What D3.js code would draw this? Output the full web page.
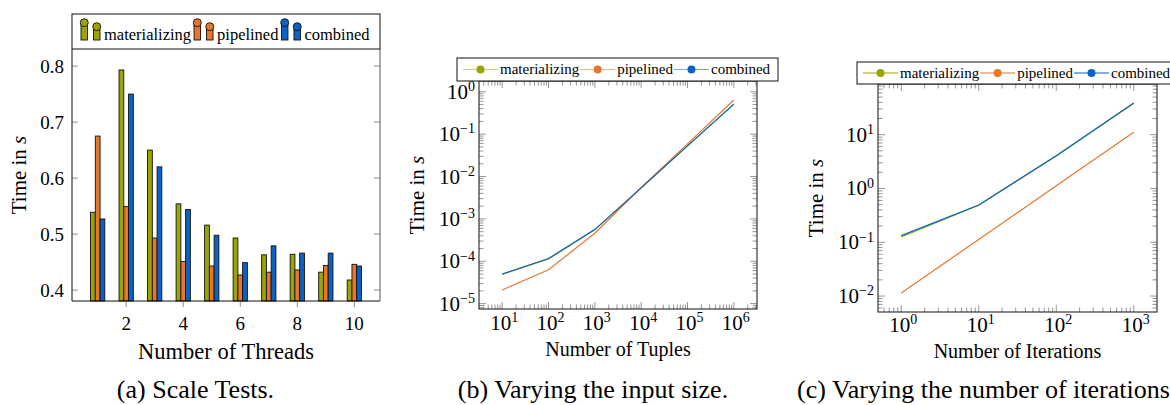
<!DOCTYPE html>
<html>
<head>
<meta charset="utf-8">
<script src="https://cdn.jsdelivr.net/npm/d3@7"></script>
<style>
  body { margin: 0; background: #fff; }
  svg { display: block; }
  svg text { font-family: "Liberation Serif", "DejaVu Serif", serif; }
</style>
</head>
<body>
<svg id="fig" width="1170" height="405"></svg>
<script>
// (a) scale tests: time per thread count
const threads = [1, 2, 3, 4, 5, 6, 7, 8, 9, 10];
const threadMat = [0.539, 0.793, 0.650, 0.554, 0.516, 0.493, 0.463, 0.464, 0.432, 0.418];
const threadPip = [0.675, 0.549, 0.493, 0.451, 0.443, 0.427, 0.432, 0.436, 0.444, 0.446];
const threadComb = [0.527, 0.750, 0.620, 0.544, 0.498, 0.449, 0.479, 0.466, 0.466, 0.443];
const threadTicks = [2, 4, 6, 8, 10];
const timeTicks = [0.4, 0.5, 0.6, 0.7, 0.8];

// (b) varying input size
const tuples = [1e1, 1e2, 1e3, 1e4, 1e5, 1e6];
const tuplesMat = [4.9e-5, 1.13e-4, 5.6e-4, 5.4e-3, 5.3e-2, 0.51];
const tuplesPip = [2.1e-5, 6.3e-5, 4.6e-4, 5.5e-3, 5.9e-2, 0.64];
const tuplesComb = [5.0e-5, 1.16e-4, 5.6e-4, 5.4e-3, 5.3e-2, 0.51];

// (c) varying the number of iterations
const iterations = [1, 10, 100, 1000];
const iterMat = [0.125, 0.488, 4.0, 38.5];
const iterPip = [0.0114, 0.113, 1.12, 11.1];
const iterComb = [0.133, 0.494, 4.05, 38.8];

const seriesNames = ["materializing", "pipelined", "combined"];
const colors = ["#9aa500", "#e8762b", "#0a63c4"];

const svg = d3.select("#fig");
const tickGray = "#8a8a8a";

// pgfplots style: enlarge limits by 10% of the data range
function enlarge(lo, hi, f = 0.1) {
  const p = (hi - lo) * f;
  return [lo - p, hi + p];
}
function enlargeLog(lo, hi, f = 0.1) {
  const a = Math.log10(lo), b = Math.log10(hi), p = (b - a) * f;
  return [Math.pow(10, a - p), Math.pow(10, b + p)];
}

function yLabel(x, yMid) {
  const t = svg.append("text")
    .attr("transform", `translate(${x},${yMid}) rotate(-90)`)
    .attr("text-anchor", "middle")
    .attr("font-size", 21);
  t.append("tspan").text("Time in ");
  t.append("tspan").attr("font-style", "italic").text("s");
}

function caption(x, y, text, anchor = "middle") {
  svg.append("text").attr("x", x).attr("y", y)
    .attr("text-anchor", anchor).attr("font-size", 26).text(text);
}

// ---------------- (a) bar chart ----------------
function drawBars() {
  const L = 72, R = 380, T = 49, B = 301;
  const all = threadMat.concat(threadPip, threadComb);
  const x = d3.scaleLinear().domain(enlarge(d3.min(threads), d3.max(threads))).range([L, R]);
  const y = d3.scaleLinear().domain(enlarge(d3.min(all), d3.max(all))).range([B, T]);
  const g = svg.append("g");

  const bw = (x(1) - x(0)) / 6;
  const sets = [threadMat, threadPip, threadComb];
  sets.forEach((vals, si) => {
    g.selectAll(null).data(threads).enter().append("rect")
      .attr("x", (d) => x(d) + (si - 1) * bw - bw / 2)
      .attr("y", (d, i) => y(vals[i]))
      .attr("width", bw)
      .attr("height", (d, i) => B - y(vals[i]))
      .attr("fill", colors[si])
      .attr("stroke", "#111")
      .attr("stroke-width", 0.9);
  });

  // y ticks inside on both sides
  timeTicks.forEach((v) => {
    g.append("line").attr("x1", L).attr("x2", L + 6).attr("y1", y(v)).attr("y2", y(v))
      .attr("stroke", tickGray);
    g.append("line").attr("x1", R).attr("x2", R - 6).attr("y1", y(v)).attr("y2", y(v))
      .attr("stroke", tickGray);
    g.append("text").attr("x", L - 8).attr("y", y(v)).attr("dy", "0.35em")
      .attr("text-anchor", "end").attr("font-size", 19).text(d3.format(".1f")(v));
  });
  // x ticks outside below
  threadTicks.forEach((v) => {
    g.append("line").attr("x1", x(v)).attr("x2", x(v)).attr("y1", B).attr("y2", B + 6)
      .attr("stroke", tickGray);
    g.append("text").attr("x", x(v)).attr("y", 330)
      .attr("text-anchor", "middle").attr("font-size", 19).text(v);
  });

  // frame
  g.append("path").attr("d", `M${L},${T}V${B}H${R}`).attr("fill", "none").attr("stroke", "#111");
  g.append("line").attr("x1", R).attr("x2", R).attr("y1", T).attr("y2", B).attr("stroke", "#555");

  // legend
  const lg = svg.append("g");
  lg.append("rect").attr("x", L).attr("y", 14).attr("width", R - L).attr("height", T - 14)
    .attr("fill", "#fff").attr("stroke", "#111");
  let cx = 81;
  seriesNames.forEach((name, i) => {
    [[0, 25, 22.7], [12.5, 29.5, 26.7]].forEach(([dx, top, cy]) => {
      lg.append("rect").attr("x", cx + dx).attr("y", top).attr("width", 6.5).attr("height", 40 - top)
        .attr("fill", colors[i]).attr("stroke", "#111").attr("stroke-width", 0.9);
      lg.append("circle").attr("cx", cx + dx + 3.25).attr("cy", cy).attr("r", 4)
        .attr("fill", colors[i]).attr("stroke", "#111").attr("stroke-width", 0.9);
    });
    const t = lg.append("text").attr("x", cx + 23).attr("y", 40).attr("font-size", 16.5).text(name);
    cx = cx + 23 + t.node().getComputedTextLength() + 3;
  });

  yLabel(26, (T + B) / 2);
  svg.append("text").attr("x", (L + R) / 2).attr("y", 359).attr("text-anchor", "middle")
    .attr("font-size", 22.5).text("Number of Threads");
  caption(195.5, 398, "(a) Scale Tests.");
}

// ---------------- log-log line charts ----------------
function powLabel(sel, exp) {
  sel.append("tspan").text("10");
  sel.append("tspan").attr("font-size", 14).attr("dy", "-0.55em")
    .text(exp < 0 ? "\u2212" + (-exp) : String(exp));
}

function drawLog(cfg) {
  const { L, R, T, B, xs, series, xLabel, legend, labelBase } = cfg;
  const allY = [].concat(...series);
  const x = d3.scaleLog().domain(enlargeLog(d3.min(xs), d3.max(xs))).range([L, R]);
  const y = d3.scaleLog().domain(enlargeLog(d3.min(allY), d3.max(allY))).range([B, T]);
  const g = svg.append("g");

  function ticksFor(scale) {
    const [a, b] = scale.domain();
    const majors = [], minors = [];
    for (let e = Math.floor(Math.log10(a)); e <= Math.ceil(Math.log10(b)); e++) {
      for (let k = 1; k <= 9; k++) {
        const v = k * Math.pow(10, e);
        if (v < a || v > b) continue;
        (k === 1 ? majors : minors).push({ v, e });
      }
    }
    return { majors, minors };
  }
  const xt = ticksFor(x), yt = ticksFor(y);

  const tickLine = (x1, y1, x2, y2) =>
    g.append("line").attr("x1", x1).attr("y1", y1).attr("x2", x2).attr("y2", y2)
      .attr("stroke", tickGray).attr("stroke-width", 0.9);

  xt.minors.forEach((t) => { tickLine(x(t.v), B, x(t.v), B - 4.5); tickLine(x(t.v), T, x(t.v), T + 4.5); });
  xt.majors.forEach((t) => { tickLine(x(t.v), B, x(t.v), B - 7); tickLine(x(t.v), T, x(t.v), T + 7); });
  yt.minors.forEach((t) => { tickLine(L, y(t.v), L + 4.5, y(t.v)); tickLine(R, y(t.v), R - 4.5, y(t.v)); });
  yt.majors.forEach((t) => { tickLine(L, y(t.v), L + 7, y(t.v)); tickLine(R, y(t.v), R - 7, y(t.v)); });

  xt.majors.forEach((t) => {
    const txt = g.append("text").attr("x", x(t.v) + 2).attr("y", labelBase)
      .attr("text-anchor", "middle").attr("font-size", 21);
    powLabel(txt, t.e);
  });
  yt.majors.forEach((t) => {
    const txt = g.append("text").attr("x", L - 4).attr("y", y(t.v) + 7)
      .attr("text-anchor", "end").attr("font-size", 21);
    powLabel(txt, t.e);
  });

  const line = d3.line().x((d) => x(d[0])).y((d) => y(d[1]));
  series.forEach((vals, i) => {
    g.append("path").datum(xs.map((v, j) => [v, vals[j]])).attr("d", line)
      .attr("fill", "none").attr("stroke", colors[i]).attr("stroke-width", 1.2);
  });

  g.append("rect").attr("x", L).attr("y", T).attr("width", R - L).attr("height", B - T)
    .attr("fill", "none").attr("stroke", "#111");

  // legend, centred over the plot
  const lg = svg.append("g");
  lg.append("rect").attr("x", legend.x0).attr("y", legend.y0)
    .attr("width", legend.x1 - legend.x0).attr("height", T - legend.y0)
    .attr("fill", "#fff").attr("stroke", "#111");
  let cx = legend.x0 + 6;
  seriesNames.forEach((name, i) => {
    lg.append("line").attr("x1", cx).attr("x2", cx + 35).attr("y1", legend.ly).attr("y2", legend.ly)
      .attr("stroke", colors[i]).attr("stroke-width", 1.2).attr("opacity", legend.lineOpacity);
    lg.append("circle").attr("cx", cx + 17.5).attr("cy", legend.ly).attr("r", 4).attr("fill", colors[i]);
    const t = lg.append("text").attr("x", cx + 37).attr("y", legend.ly + 4.5)
      .attr("font-size", 15).text(name);
    cx = cx + 37 + t.node().getComputedTextLength() + 1;
  });

  yLabel(cfg.yLabelX, (T + B) / 2);
  svg.append("text").attr("x", (L + R) / 2).attr("y", cfg.xLabelY).attr("text-anchor", "middle")
    .attr("font-size", 20).text(xLabel);
}

drawBars();
drawLog({
  L: 479, R: 757, T: 81, B: 309, xs: tuples,
  series: [tuplesMat, tuplesPip, tuplesComb],
  xLabel: "Number of Tuples", xLabelY: 356, labelBase: 330, yLabelX: 424,
  legend: { x0: 457, x1: 778, y0: 58, ly: 69.5, lineOpacity: 0.55 }
});
caption(593, 398, "(b) Varying the input size.");
drawLog({
  L: 878, R: 1157, T: 84, B: 312, xs: iterations,
  series: [iterMat, iterPip, iterComb],
  xLabel: "Number of Iterations", xLabelY: 358, labelBase: 332, yLabelX: 823,
  legend: { x0: 857, x1: 1177, y0: 62, ly: 73, lineOpacity: 1 }
});
caption(797, 398, "(c) Varying the number of iterations.", "start");
</script>
</body>
</html>
